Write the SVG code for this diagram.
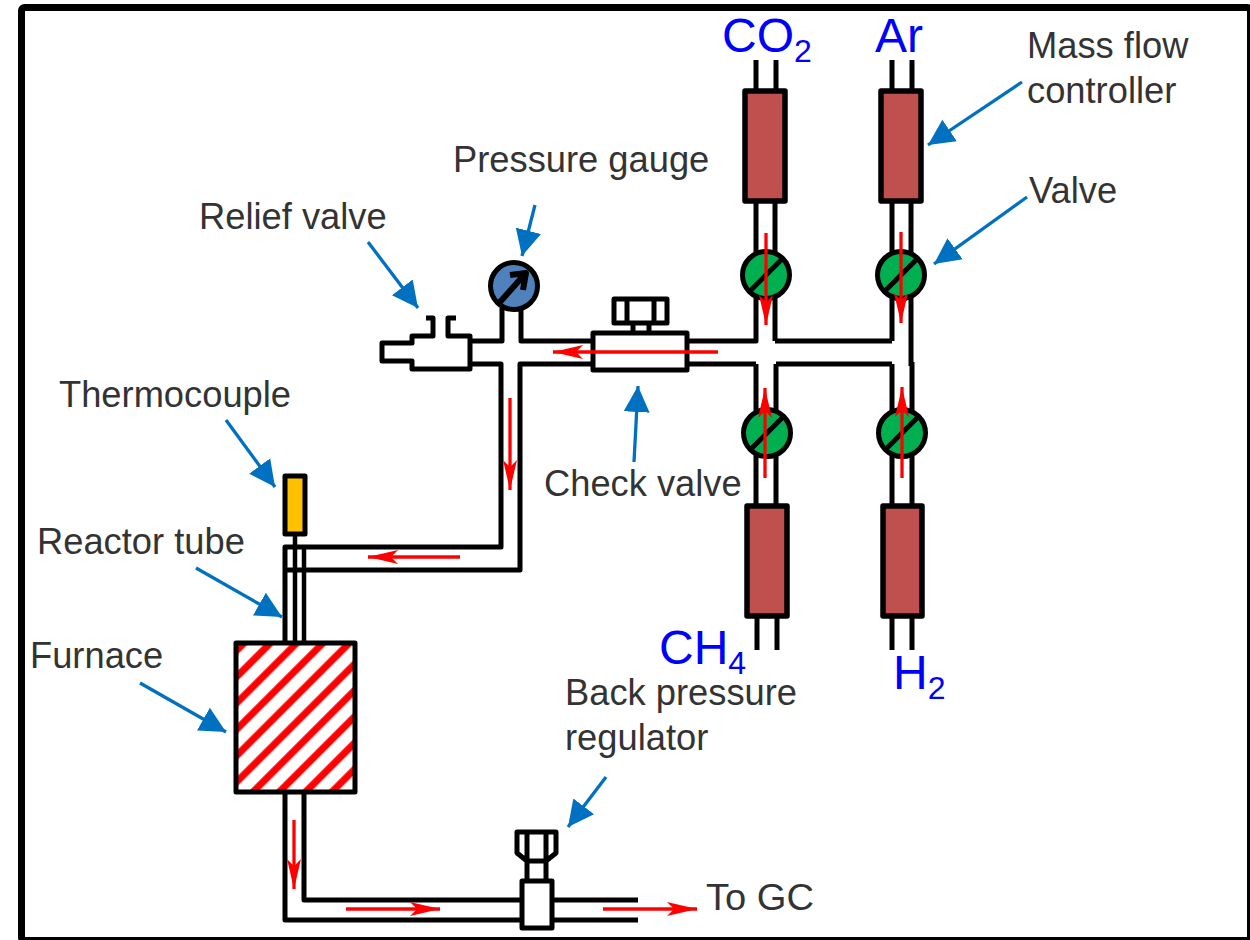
<svg xmlns="http://www.w3.org/2000/svg" width="1250" height="940" viewBox="0 0 1250 940">
<defs>
<marker id="red" markerUnits="userSpaceOnUse" markerWidth="32" markerHeight="20" refX="30" refY="10" orient="auto"><path d="M0 3L30 10L0 17L7 10Z" fill="#ff0000"/></marker>
<marker id="blue" markerUnits="userSpaceOnUse" markerWidth="30" markerHeight="28" refX="26" refY="14" orient="auto"><path d="M0 1L26 14L0 27Z" fill="#0070c0"/></marker>
<pattern id="hatch" patternUnits="userSpaceOnUse" width="18.6" height="18.6" patternTransform="rotate(-45)"><rect width="18.6" height="18.6" fill="#fff"/><rect y="10" width="18.6" height="7" fill="#ff0000"/></pattern>
</defs>
<style>
.p{fill:none;stroke:#000;stroke-width:5;stroke-linejoin:round}
.t{fill:none;stroke:#000;stroke-width:4.5;stroke-linejoin:round}
.w{fill:#fff;stroke:#000;stroke-width:5;stroke-linejoin:round}
.mfc{fill:#c0504d;stroke:#000;stroke-width:5.5;stroke-linejoin:round}
.v{fill:#00b050;stroke:#000;stroke-width:5}
.n{fill:none;stroke:#000;stroke-width:6;stroke-linejoin:round}
.r{fill:none;stroke:#ff0000;stroke-width:3.3;marker-end:url(#red)}
.b{fill:none;stroke:#0070c0;stroke-width:3.3;marker-end:url(#blue)}
text{font-family:"Liberation Sans",Arial,sans-serif}
.l{font-size:36.3px;fill:#333}
.g{font-size:48px;fill:#0000ff}
</style>
<rect width="1250" height="940" fill="#fff"/>
<rect id="frame" x="21.5" y="7.5" width="1229" height="933" rx="3" fill="none" stroke="#000" stroke-width="7"/>
<g id="connectors">
<path class="p" d="M756 60V91M776 60V91M756 201V341H688M775 201V341M775 341H892M892 201V341M911 201V366M912 362V505M892 364V505M776 364H892M756 364H688M756 364V505M776 364V505M757 616V650M777 616V650M892 616V650M912 616V650M892 60V91M912 60V91"/>
<path class="p" d="M471 341H502V308M521 308V341H593M471 364H501V547H285V643M593 364H520V570H285"/>
<path class="t" d="M295 534V643M304 547V643"/>
<path class="p" d="M285 792V920H522M304 792V900H522M552 900H638M552 920H638"/>
</g>
<g id="co2-mfc"><rect class="mfc" x="745" y="91" width="40" height="110"/></g>
<g id="ar-mfc"><rect class="mfc" x="881" y="91" width="40" height="110"/></g>
<g id="ch4-mfc"><rect class="mfc" x="747" y="506" width="40" height="110"/></g>
<g id="h2-mfc"><rect class="mfc" x="883" y="506" width="39" height="110"/></g>
<g id="valve-co2"><circle class="v" cx="766" cy="275" r="23.5"/><path class="p" d="M750 291L782 259"/></g>
<g id="valve-ar"><circle class="v" cx="901" cy="275" r="23.5"/><path class="p" d="M885 291L917 259"/></g>
<g id="valve-ch4"><circle class="v" cx="767" cy="433" r="23.5"/><path class="p" d="M751 449L783 417"/></g>
<g id="valve-h2"><circle class="v" cx="902" cy="433" r="23.5"/><path class="p" d="M886 449L918 417"/></g>
<g id="gauge"><circle cx="514" cy="286" r="23.5" fill="#4f81bd" stroke="#000" stroke-width="5"/><path class="n" d="M500 302L525 274M510 275L526 273L523 290"/></g>
<g id="relief-valve"><path class="w" d="M426 318H433V336H412V343H382V361H412V369H470V336H448V318H456"/></g>
<g id="check-valve"><rect class="w" x="593" y="333" width="94" height="37"/><rect class="w" x="614" y="299" width="53" height="24"/><path class="p" d="M627 299V323M654 299V323M633 323V333M649 323V333"/></g>
<g id="thermocouple"><rect x="285" y="476" width="20" height="58" fill="#ffc000" stroke="#000" stroke-width="5" stroke-linejoin="round"/></g>
<g id="furnace"><rect x="236" y="643" width="119" height="149" fill="url(#hatch)" stroke="#000" stroke-width="5" stroke-linejoin="round"/></g>
<g id="bpr"><rect class="w" x="522" y="881" width="30" height="47"/><path class="p" d="M517 832H556V853L546 861H527L517 853ZM527 832V861M546 832V861M527 861V881M546 861V881"/></g>
<g id="flow-arrows">
<path class="r" d="M718 352H553"/><path class="r" d="M766 233V325"/><path class="r" d="M901 232V323"/><path class="r" d="M765 478V388"/><path class="r" d="M902 478V387"/><path class="r" d="M510 398V490"/><path class="r" d="M460 557H368"/><path class="r" d="M294 820V889"/><path class="r" d="M346 909H440"/><path class="r" d="M603 909H697"/>
</g>
<g id="callouts">
<path class="b" d="M1022 82L928 145"/><path class="b" d="M1027 197L934 264"/><path class="b" d="M535 205L522 256"/><path class="b" d="M368 242L418 308"/><path class="b" d="M634 462L638 386"/><path class="b" d="M226 420L275 487"/><path class="b" d="M196 568L282 617"/><path class="b" d="M140 683L226 732"/><path class="b" d="M606 777L568 827"/>
</g>
<g id="labels">
<text class="l" x="1027" y="58">Mass flow</text><text class="l" x="1027" y="103">controller</text><text class="l" x="1029" y="203">Valve</text><text class="l" x="453" y="172">Pressure gauge</text><text class="l" x="199" y="229">Relief valve</text><text class="l" x="59" y="407">Thermocouple</text><text class="l" x="37" y="554">Reactor tube</text><text class="l" x="30" y="668">Furnace</text><text class="l" x="544" y="496">Check valve</text><text class="l" x="565" y="705">Back pressure</text><text class="l" x="565" y="750">regulator</text><text class="l" x="706" y="910" textLength="108" lengthAdjust="spacingAndGlyphs">To GC</text>
<text class="g" x="722" y="52">CO<tspan font-size="32" dy="10">2</tspan></text><text class="g" x="875" y="52">Ar</text><text class="g" x="659" y="664">CH<tspan font-size="32" dy="10">4</tspan></text><text class="g" x="893" y="689">H<tspan font-size="32" dy="10">2</tspan></text>
</g>
</svg>
